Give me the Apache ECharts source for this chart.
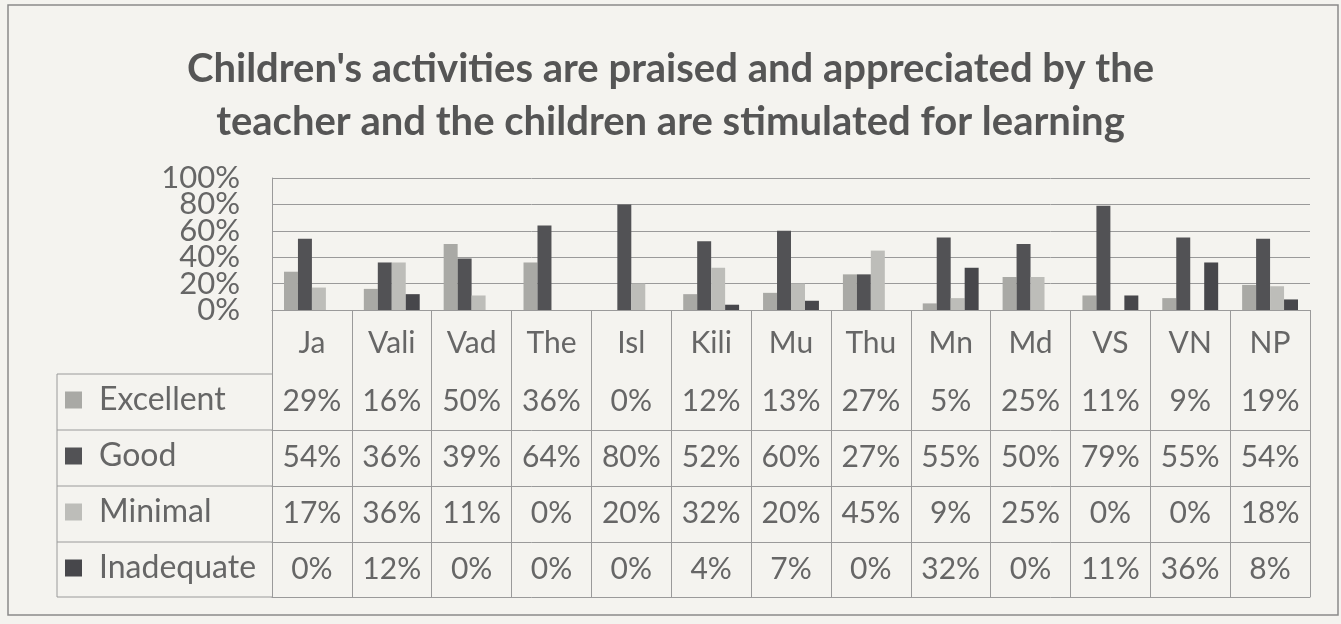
<!DOCTYPE html>
<html>
<head>
<meta charset="utf-8">
<script src="https://cdn.jsdelivr.net/npm/echarts@6/dist/echarts.min.js"></script>
<style>
  html, body { margin: 0; padding: 0; background: #f4f3ef; }
  #chart { width: 1341px; height: 624px; }
</style>
</head>
<body>
<div id="chart"></div>
<script>
// categories (schools / places)
const categories = ['Ja', 'Vali', 'Vad', 'The', 'Isl', 'Kili', 'Mu', 'Thu', 'Mn', 'Md', 'VS', 'VN', 'NP'];

const excellent = [29, 16, 50, 36, 0, 12, 13, 27, 5, 25, 11, 9, 19];
const good = [54, 36, 39, 64, 80, 52, 60, 27, 55, 50, 79, 55, 54];
const minimal = [17, 36, 11, 0, 20, 32, 20, 45, 9, 25, 0, 0, 18];
const inadequate = [0, 12, 0, 0, 0, 4, 7, 0, 32, 0, 11, 36, 8];

const seriesNames = ['Excellent', 'Good', 'Minimal', 'Inadequate'];
const seriesData = [excellent, good, minimal, inadequate];
const colors = ['#a9a9a5', '#525255', '#bdbdb9', '#47474b'];

const chart = echarts.init(document.getElementById('chart'));

const font = 'Lato, "Open Sans", sans-serif';
const textColor = '#666';
const lineColor = '#9a9a9a';

// table layout (pixels)
const gridLeft = 272, gridRight = 1310, gridTop = 178, gridBottom = 310;
const rowLines = [374, 430, 486, 542, 597];
const tableLeft = 57;

const valueAxes = seriesData.map((arr, i) => ({
  type: 'category',
  gridIndex: 0,
  position: 'bottom',
  offset: rowLines[i] - gridBottom,
  data: categories,
  axisLine: { show: true, lineStyle: { color: lineColor, width: 1 } },
  axisTick: { show: false },
  axisLabel: {
    interval: 0,
    margin: 27,
    verticalAlign: 'middle',
    fontFamily: font,
    fontSize: 30,
    color: textColor,
    formatter: (v, idx) => arr[idx] + '%'
  },
  splitLine: { show: false }
}));

// y labels are packed tightly, so they are split over two overlaid axes
// (alternate ticks) to keep every label visible
const yAxisBase = (keepOdd) => ({
  type: 'value',
  position: 'left',
  min: 0,
  max: 100,
  interval: 20,
  axisLine: { show: !keepOdd, lineStyle: { color: lineColor, width: 1 } },
  axisTick: { show: false },
  axisLabel: {
    margin: 32,
    fontFamily: font,
    fontSize: 31,
    color: textColor,
    formatter: v => ((v / 20) % 2 === (keepOdd ? 1 : 0)) ? v + '%' : ''
  },
  splitLine: { show: !keepOdd, lineStyle: { color: lineColor, width: 1 } }
});

const option = {
  backgroundColor: '#f4f3ef',
  animation: false,
  title: {
    text: "Children's activities are praised and appreciated by the\nteacher and the children are stimulated for learning",
    left: 'center',
    top: 38,
    textStyle: {
      fontFamily: font,
      fontWeight: 'bold',
      fontSize: 40,
      lineHeight: 53,
      color: '#555'
    }
  },
  legend: {
    orient: 'vertical',
    left: 60,
    top: rowLines[0] + 1,
    itemWidth: 17,
    itemHeight: 17,
    itemGap: 16,
    icon: 'rect',
    data: seriesNames,
    textStyle: {
      fontFamily: font,
      fontSize: 32,
      color: textColor,
      lineHeight: 40,
      padding: [0, 0, 0, 12]
    }
  },
  grid: {
    left: gridLeft,
    right: 1341 - gridRight,
    top: gridTop,
    bottom: 624 - gridBottom
  },
  xAxis: [
    {
      type: 'category',
      data: categories,
      axisLine: { show: true, lineStyle: { color: lineColor, width: 1 } },
      axisTick: {
        show: true,
        interval: 0,
        length: rowLines[4] - gridBottom,
        lineStyle: { color: lineColor, width: 1 }
      },
      axisLabel: {
        interval: 0,
        margin: 33,
        verticalAlign: 'middle',
        fontFamily: font,
        fontSize: 30,
        color: textColor
      }
    },
    ...valueAxes,
    {
      type: 'category',
      position: 'bottom',
      offset: rowLines[4] - gridBottom,
      data: categories,
      axisLine: { show: true, lineStyle: { color: lineColor, width: 1 } },
      axisTick: { show: false },
      axisLabel: { show: false }
    }
  ],
  yAxis: [yAxisBase(false), yAxisBase(true)],
  series: seriesData.map((arr, i) => ({
    name: seriesNames[i],
    type: 'bar',
    data: arr,
    barGap: '0%',
    barCategoryGap: '30%',
    itemStyle: { color: colors[i] }
  })),
  graphic: [
    // outer frame
    {
      type: 'rect',
      shape: { x: 8, y: 5, width: 1330, height: 610 },
      style: { fill: 'none', stroke: '#8a8a8a', lineWidth: 1.5 },
      silent: true,
      z: -1
    },
    // legend column of the table
    {
      type: 'line',
      shape: { x1: tableLeft, y1: rowLines[0], x2: tableLeft, y2: rowLines[4] },
      style: { stroke: lineColor, lineWidth: 1 }
    },
    ...rowLines.map(y => ({
      type: 'line',
      shape: { x1: tableLeft, y1: y, x2: gridLeft, y2: y },
      style: { stroke: lineColor, lineWidth: 1 }
    }))
  ]
};

chart.setOption(option);
</script>
</body>
</html>
